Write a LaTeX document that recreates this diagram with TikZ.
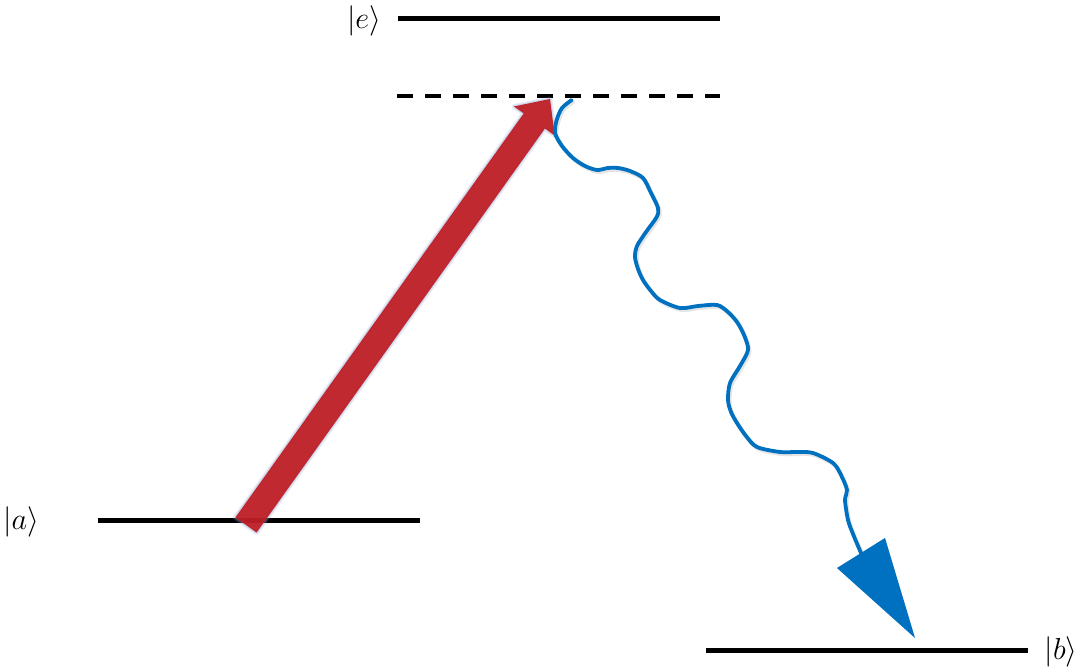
\documentclass[tikz,border=0pt]{standalone}
\usepackage{graphicx}
\usetikzlibrary{calc}
\definecolor{arrred}{RGB}{190,30,38}
\definecolor{wblue}{RGB}{0,112,192}
\definecolor{glow}{RGB}{150,165,210}
\tikzset{
  level/.style={line width=5pt, black},
  virtual/.style={line width=4pt, black, dash pattern=on 16pt off 12pt},
  lbl/.style={inner sep=0pt, font=\Huge},
  wave/.style={line width=3.8pt, wblue, line cap=round, line join=round},
}
\newcommand{\biglbl}[1]{\scalebox{1.22}{$#1$}}
\begin{document}
\begin{tikzpicture}[x=1pt,y=-1pt]
\useasboundingbox (0,0) rectangle (1083,671);
% levels
\coordinate (eL) at (398,19);  \coordinate (eR) at (720,19);
\coordinate (vL) at (397,96);  \coordinate (vR) at (720,96);
\coordinate (aL) at (98,520);  \coordinate (aR) at (420,520);
\coordinate (bL) at (706,650); \coordinate (bR) at (1028,650);
\draw[level] (eL) -- (eR);
\draw[virtual] (vL) -- (vR);
\draw[level] (aL) -- (aR);
\draw[level] (bL) -- (bR);
\node[lbl] (le) at (364,21) {\biglbl{|e\rangle}};
\node[lbl] (la) at (21,522) {\biglbl{|a\rangle}};
\node[lbl] (lb) at (1061,652) {\biglbl{|b\rangle}};
% red pump arrow
\coordinate (tail) at (246,525);
\coordinate (tip) at (550,99);
\coordinate (sL) at ($(tail)!13/523.3!90:(tip)$);
\coordinate (sR) at ($(tail)!13/523.3!-90:(tip)$);
\coordinate (base) at ($(tip)!27/523.3!(tail)$);
\coordinate (nL) at ($(base)!13/27!90:(tip)$);
\coordinate (nR) at ($(base)!13/27!-90:(tip)$);
\coordinate (bbL) at ($(base)!25/27!90:(tip)$);
\coordinate (bbR) at ($(base)!25/27!-90:(tip)$);
\draw[glow, line width=5pt, opacity=0.2, line join=round]
  (sL) -- (nL) -- (bbL) -- (tip) -- (bbR) -- (nR) -- (sR) -- cycle;
\draw[glow, line width=2.5pt, opacity=0.3, line join=round]
  (sL) -- (nL) -- (bbL) -- (tip) -- (bbR) -- (nR) -- (sR) -- cycle;
\fill[arrred, fill opacity=0.95]
  (sL) -- (nL) -- (bbL) -- (tip) -- (bbR) -- (nR) -- (sR) -- cycle;
% blue wavy emission
\def\wavepts{(571.7,100) (562,108) (556.7,120) (555,133) (562,146) (573,158) (585,166) (597,170) (608,168) (618,168) (630,171) (643,178) (651,193) (658,208) (656.7,217) (646,232) (637,246) (635,257) (638,269) (643,280) (651,291) (660,300) (680,308) (698,306) (717,305) (728,312) (737,322) (744,335) (748,350) (740,366) (730,383) (728,400) (731,412) (737,423) (746,436) (757,447) (780,452) (797,452) (813,453) (833,463) (841,475) (847,490) (845,500) (848,520) (853,534) (861,553)}
\draw[wave, black, opacity=0.1, line width=4pt, shift={(1.5,2)}] plot[smooth, tension=0.5] coordinates {\wavepts};
\draw[wave] plot[smooth, tension=0.5] coordinates {\wavepts};
\coordinate (h1) at (885,538);
\coordinate (h2) at (837,568);
\coordinate (h3) at (915,638);
\fill[black, opacity=0.1, shift={(1.5,2)}] (h1) -- (h2) -- (h3) -- cycle;
\fill[wblue] (h1) -- (h2) -- (h3) -- cycle;
\end{tikzpicture}
\end{document}
